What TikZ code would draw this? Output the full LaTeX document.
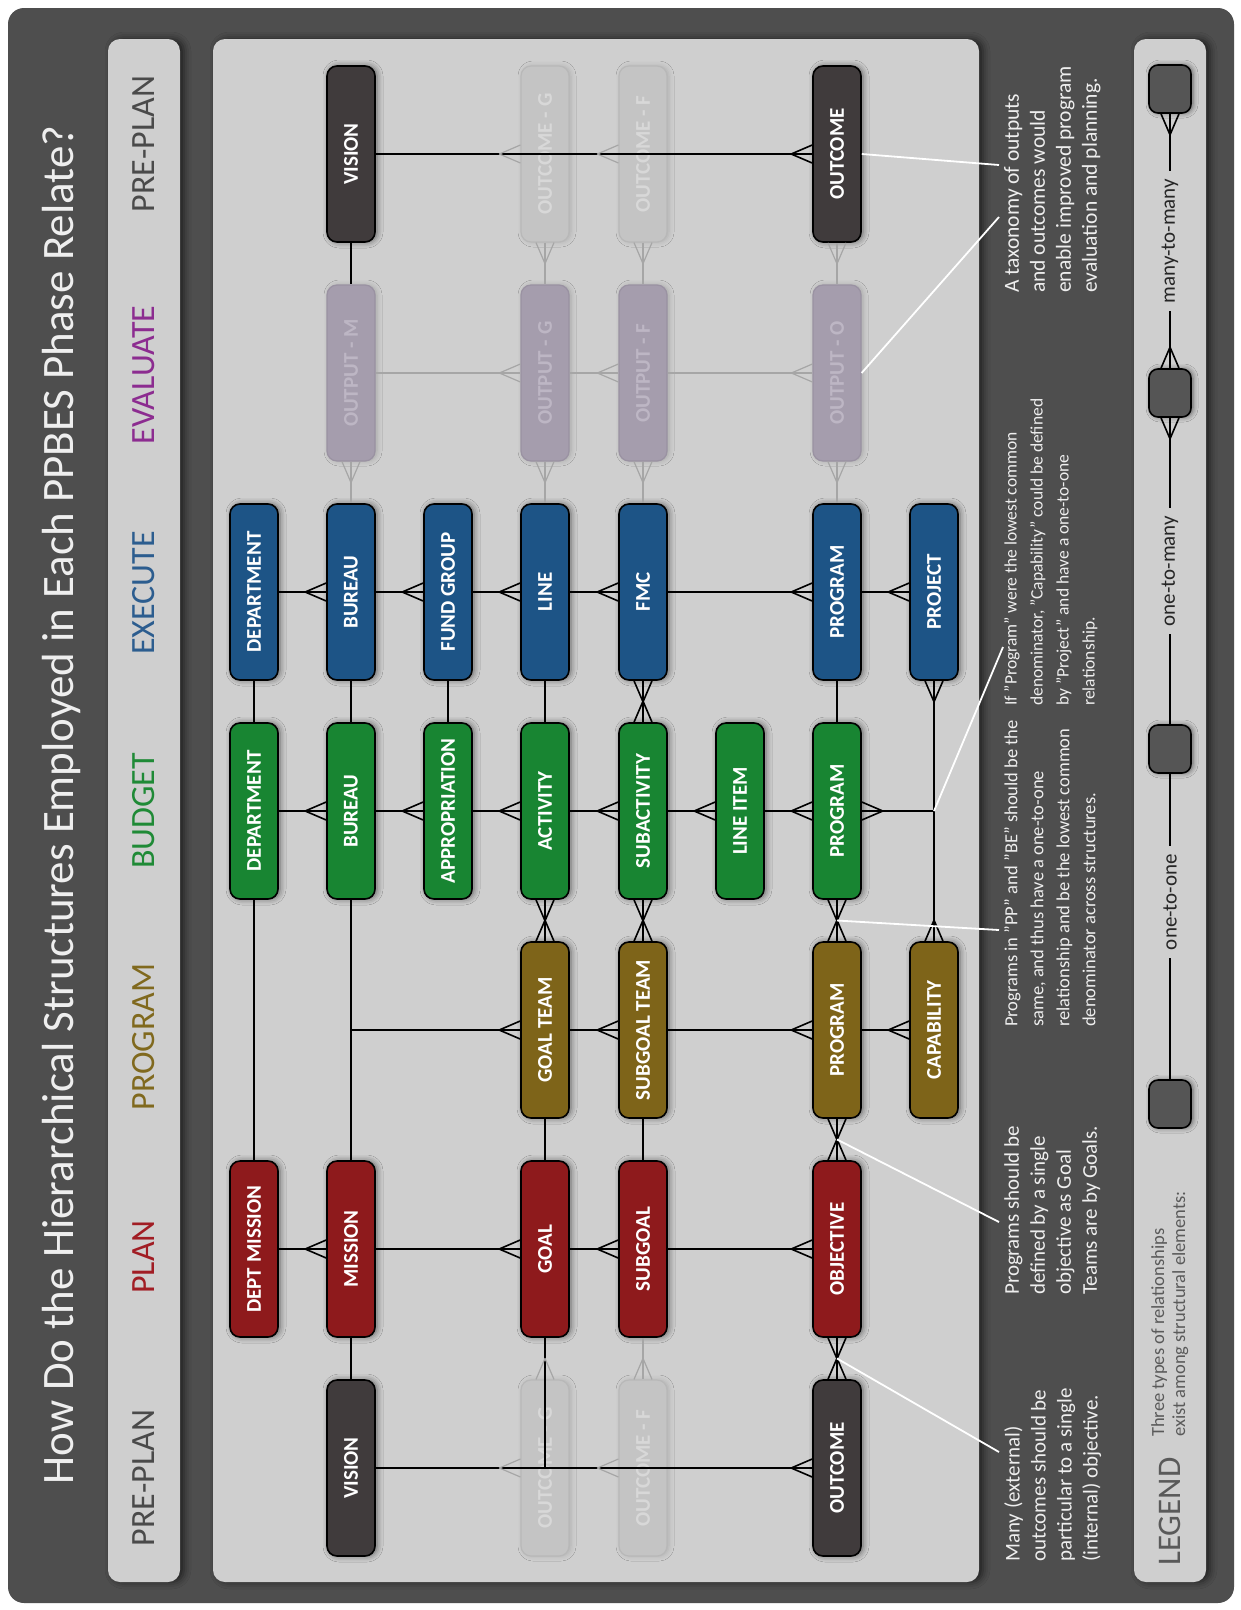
\documentclass[tikz,border=0pt]{standalone}
\usepackage{graphicx}
\usepackage{fontspec}
\setmainfont{Carlito}
\usetikzlibrary{calc,shadows.blur}

\definecolor{framegray}{HTML}{4E4E4E}
\definecolor{panelgray}{HTML}{CFCFCF}
\definecolor{preplanfill}{HTML}{403B3C}
\definecolor{planfill}{HTML}{8E1A1C}
\definecolor{programfill}{HTML}{7E6419}
\definecolor{budgetfill}{HTML}{188532}
\definecolor{executefill}{HTML}{1D5486}
\definecolor{outputfill}{HTML}{A59DAD}
\definecolor{outputline}{HTML}{9A92A2}
\definecolor{outputtext}{HTML}{BDB6C4}
\definecolor{fadefill}{HTML}{C4C4C4}
\definecolor{fadeline}{HTML}{A6A6A6}
\definecolor{fadetext}{HTML}{D8D8D8}
\definecolor{headgray}{HTML}{4A4A4A}
\definecolor{headplan}{HTML}{A11D24}
\definecolor{headprogram}{HTML}{80691E}
\definecolor{headbudget}{HTML}{1F8A36}
\definecolor{headexecute}{HTML}{2C5D8F}
\definecolor{headevaluate}{HTML}{8C2C90}
\definecolor{legendgray}{HTML}{5A5A5A}
\definecolor{legendfill}{HTML}{555555}
\definecolor{notewhite}{HTML}{EEEEEE}

\newcommand{\up}[1]{\rotatebox{90}{#1}}

\tikzset{
  panel/.style={fill=panelgray, rounded corners=12pt,
    blur shadow={shadow xshift=4pt, shadow yshift=0pt,
      shadow blur radius=7pt, shadow opacity=60}},
  box base/.style={draw=black, line width=1.6pt, rounded corners=10pt,
    minimum width=48pt, minimum height=176pt, inner sep=0pt, text=white,
    font={\fontsize{21}{21}\selectfont\bfseries}},
  phase box/.style={box base,
    blur shadow={shadow xshift=2pt, shadow yshift=0pt,
      shadow blur radius=6pt, shadow opacity=55}},
  preplan box/.style={phase box, fill=preplanfill},
  plan box/.style={phase box, fill=planfill},
  program box/.style={phase box, fill=programfill},
  budget box/.style={phase box, fill=budgetfill},
  execute box/.style={phase box, fill=executefill},
  faded box/.style={box base, line width=1.2pt, draw=fadeline!80!white,
    fill=fadefill, text=fadetext,
    blur shadow={shadow xshift=2pt, shadow yshift=0pt,
      shadow blur radius=5pt, shadow opacity=15}},
  output box/.style={box base, line width=1.2pt, draw=outputline,
    fill=outputfill, text=outputtext,
    blur shadow={shadow xshift=2pt, shadow yshift=0pt,
      shadow blur radius=5pt, shadow opacity=20}},
  link/.style={draw=black, line width=1.6pt, line join=round},
  faded link/.style={draw=fadeline, line width=1.2pt, line join=round},
  note line/.style={draw=white, line width=1.8pt},
  crow/.pic={\draw[link] (0,-9) -- (21,0) -- (0,9);},
  faded crow/.pic={\draw[faded link] (0,-9) -- (21,0) -- (0,9);},
  title/.style={rotate=90, text=notewhite,
    font={\fontsize{45}{45}\selectfont}},
  head/.style={rotate=90, font={\fontsize{34}{34}\selectfont}},
  note/.style={rotate=90, anchor=north west, align=left, inner sep=0pt,
    text=notewhite, font={\fontsize{#1}{26}\selectfont}},
  note/.default=20,
  legend box/.style={draw=black, line width=1.6pt, fill=legendfill,
    rounded corners=9pt, minimum width=42pt, minimum height=48pt,
    blur shadow={shadow xshift=2pt, shadow yshift=0pt,
      shadow blur radius=5pt, shadow opacity=55}},
  legend label/.style={fill=panelgray, inner xsep=2pt, inner ysep=8pt,
    text=black!85, font={\fontsize{21}{21}\selectfont}},
}

\begin{document}
\begin{tikzpicture}[x=1pt, y=-1pt]
  \useasboundingbox (0,0) rectangle (1241,1610);
  \fill[white] (0,0) rectangle (1241,1610);
  \fill[framegray, rounded corners=16pt] (8,8) rectangle (1234,1603);

  % panels
  \path[panel] (108,39) rectangle (180,1582);
  \path[panel] (213,39) rectangle (979,1582);
  \path[panel] (1134,39) rectangle (1206,1582);

  \node[title] (title) at (62,805)
    {How Do the Hierarchical Structures Employed in Each PPBES Phase Relate?};

  % phase headings
  \node[head, text=headgray] (hpreA) at (144,1478) {PRE-PLAN};
  \node[head, text=headplan] (hplan) at (144,1257) {PLAN};
  \node[head, text=headprogram] (hprogram) at (144,1037) {PROGRAM};
  \node[head, text=headbudget] (hbudget) at (144,811) {BUDGET};
  \node[head, text=headexecute] (hexecute) at (144,593) {EXECUTE};
  \node[head, text=headevaluate] (hevaluate) at (144,375) {EVALUATE};
  \node[head, text=headgray] (hpreB) at (144,144) {PRE-PLAN};

  % pre-plan (left)
  \node[preplan box] (visionA) at (351,1468) {\up{VISION}};
  \node[faded box] (outGA) at (545,1468) {\up{OUTCOME - G}};
  \node[faded box] (outFA) at (643,1468) {\up{OUTCOME - F}};
  \node[preplan box] (outcomeA) at (837,1468) {\up{OUTCOME}};

  % plan
  \node[plan box] (deptmission) at (254,1249) {\up{DEPT MISSION}};
  \node[plan box] (mission) at (351,1249) {\up{MISSION}};
  \node[plan box] (goal) at (545,1249) {\up{GOAL}};
  \node[plan box] (subgoal) at (643,1249) {\up{SUBGOAL}};
  \node[plan box] (objective) at (837,1249) {\up{OBJECTIVE}};

  % program
  \node[program box] (goalteam) at (545,1030) {\up{GOAL TEAM}};
  \node[program box] (subgoalteam) at (643,1030) {\up{SUBGOAL TEAM}};
  \node[program box] (program) at (837,1030) {\up{PROGRAM}};
  \node[program box] (capability) at (934,1030) {\up{CAPABILITY}};

  % budget
  \node[budget box] (bdept) at (254,811) {\up{DEPARTMENT}};
  \node[budget box] (bbureau) at (351,811) {\up{BUREAU}};
  \node[budget box] (approp) at (448,811) {\up{APPROPRIATION}};
  \node[budget box] (activity) at (545,811) {\up{ACTIVITY}};
  \node[budget box] (subactivity) at (643,811) {\up{SUBACTIVITY}};
  \node[budget box] (lineitem) at (740,811) {\up{LINE ITEM}};
  \node[budget box] (bprogram) at (837,811) {\up{PROGRAM}};

  % execute
  \node[execute box] (edept) at (254,592) {\up{DEPARTMENT}};
  \node[execute box] (ebureau) at (351,592) {\up{BUREAU}};
  \node[execute box] (fundgroup) at (448,592) {\up{FUND GROUP}};
  \node[execute box] (eline) at (545,592) {\up{LINE}};
  \node[execute box] (fmc) at (643,592) {\up{FMC}};
  \node[execute box] (eprogram) at (837,592) {\up{PROGRAM}};
  \node[execute box] (project) at (934,592) {\up{PROJECT}};

  % evaluate
  \node[output box] (outM) at (351,373) {\up{OUTPUT - M}};
  \node[output box] (outG) at (545,373) {\up{OUTPUT - G}};
  \node[output box] (outF) at (643,373) {\up{OUTPUT - F}};
  \node[output box] (outO) at (837,373) {\up{OUTPUT - O}};

  % pre-plan (right)
  \node[preplan box] (visionB) at (351,154) {\up{VISION}};
  \node[faded box] (outGB) at (545,154) {\up{OUTCOME - G}};
  \node[faded box] (outFB) at (643,154) {\up{OUTCOME - F}};
  \node[preplan box] (outcomeB) at (837,154) {\up{OUTCOME}};

  % links: pre-plan (left)
  \draw[link] (visionA.east) -- (outcomeA.west);
  \pic[rotate=180] at (outGA.west) {faded crow};
  \pic[rotate=180] at (outFA.west) {faded crow};
  \pic[rotate=180] at (outcomeA.west) {crow};
  \draw[link] (mission.south) -- (visionA.north);
  \draw[link] (goal.south) -- (goal.south |- visionA.east);
  \pic[rotate=90] at (outGA.north) {faded crow};
  \draw[faded link] (subgoal.south) -- (outFA.north);
  \pic[rotate=90] at (outFA.north) {faded crow};
  \draw[link] (objective.south) -- (outcomeA.north);
  \pic[rotate=-90] at (objective.south) {crow};
  \pic[rotate=90] at (outcomeA.north) {crow};

  % links: plan
  \draw[link] (deptmission.east) -- (mission.west);
  \pic[rotate=180] at (mission.west) {crow};
  \draw[link] (mission.east) -- (goal.west);
  \pic[rotate=180] at (goal.west) {crow};
  \draw[link] (goal.east) -- (subgoal.west);
  \pic[rotate=180] at (subgoal.west) {crow};
  \draw[link] (subgoal.east) -- (objective.west);
  \pic[rotate=180] at (objective.west) {crow};
  \draw[link] (deptmission.north) -- (bdept.south);
  \draw[link] (mission.north) -- (bbureau.south);
  \draw[link] (goalteam.south) -- (goal.north);
  \draw[link] (subgoalteam.south) -- (subgoal.north);
  \draw[link] (program.south) -- (objective.north);
  \pic[rotate=-90] at (program.south) {crow};
  \pic[rotate=90] at (objective.north) {crow};

  % links: program
  \draw[link] (mission.north |- goalteam.west) -- (goalteam.west);
  \pic[rotate=180] at (goalteam.west) {crow};
  \draw[link] (goalteam.east) -- (subgoalteam.west);
  \pic[rotate=180] at (subgoalteam.west) {crow};
  \draw[link] (subgoalteam.east) -- (program.west);
  \pic[rotate=180] at (program.west) {crow};
  \draw[link] (program.east) -- (capability.west);
  \pic[rotate=180] at (capability.west) {crow};
  \draw[link] (activity.south) -- (goalteam.north);
  \pic[rotate=-90] at (activity.south) {crow};
  \pic[rotate=90] at (goalteam.north) {crow};
  \draw[link] (subactivity.south) -- (subgoalteam.north);
  \pic[rotate=-90] at (subactivity.south) {crow};
  \pic[rotate=90] at (subgoalteam.north) {crow};
  \draw[link] (bprogram.south) -- (program.north);
  \pic[rotate=-90] at (bprogram.south) {crow};
  \pic[rotate=90] at (program.north) {crow};

  % links: budget
  \draw[link] (bdept.east) -- (bbureau.west);
  \pic[rotate=180] at (bbureau.west) {crow};
  \draw[link] (bbureau.east) -- (approp.west);
  \pic[rotate=180] at (approp.west) {crow};
  \draw[link] (approp.east) -- (activity.west);
  \pic[rotate=180] at (activity.west) {crow};
  \draw[link] (activity.east) -- (subactivity.west);
  \pic[rotate=180] at (subactivity.west) {crow};
  \draw[link] (subactivity.east) -- (lineitem.west);
  \pic[rotate=180] at (lineitem.west) {crow};
  \draw[link] (lineitem.east) -- (bprogram.west);
  \pic[rotate=180] at (bprogram.west) {crow};
  \coordinate (pjoin) at (project.south |- bprogram.east);
  \draw[link] (bprogram.east) -- (pjoin);
  \pic at (bprogram.east) {crow};
  \draw[link] (project.south) -- (capability.north);
  \pic[rotate=-90] at (project.south) {crow};
  \pic[rotate=90] at (capability.north) {crow};

  % links: execute
  \draw[link] (edept.east) -- (ebureau.west);
  \pic[rotate=180] at (ebureau.west) {crow};
  \draw[link] (ebureau.east) -- (fundgroup.west);
  \pic[rotate=180] at (fundgroup.west) {crow};
  \draw[link] (fundgroup.east) -- (eline.west);
  \pic[rotate=180] at (eline.west) {crow};
  \draw[link] (eline.east) -- (fmc.west);
  \pic[rotate=180] at (fmc.west) {crow};
  \draw[link] (fmc.east) -- (eprogram.west);
  \pic[rotate=180] at (eprogram.west) {crow};
  \draw[link] (eprogram.east) -- (project.west);
  \pic[rotate=180] at (project.west) {crow};
  \draw[link] (edept.south) -- (bdept.north);
  \draw[link] (ebureau.south) -- (bbureau.north);
  \draw[link] (fundgroup.south) -- (approp.north);
  \draw[link] (eline.south) -- (activity.north);
  \draw[link] (fmc.south) -- (subactivity.north);
  \pic[rotate=-90] at (fmc.south) {crow};
  \pic[rotate=90] at (subactivity.north) {crow};
  \draw[link] (eprogram.south) -- (bprogram.north);

  % links: evaluate
  \draw[faded link] (outM.east) -- (outG.west);
  \pic[rotate=180] at (outG.west) {faded crow};
  \draw[faded link] (outG.east) -- (outF.west);
  \pic[rotate=180] at (outF.west) {faded crow};
  \draw[faded link] (outF.east) -- (outO.west);
  \pic[rotate=180] at (outO.west) {faded crow};
  \draw[faded link] (outM.south) -- (ebureau.north);
  \pic[rotate=-90] at (outM.south) {faded crow};
  \draw[faded link] (outG.south) -- (eline.north);
  \pic[rotate=-90] at (outG.south) {faded crow};
  \draw[faded link] (outF.south) -- (fmc.north);
  \pic[rotate=-90] at (outF.south) {faded crow};
  \draw[faded link] (outO.south) -- (eprogram.north);
  \pic[rotate=-90] at (outO.south) {faded crow};
  \draw[link] (visionB.south) -- (outM.north);
  \draw[faded link] (outGB.south) -- (outG.north);
  \pic[rotate=-90] at (outGB.south) {faded crow};
  \draw[faded link] (outFB.south) -- (outF.north);
  \pic[rotate=-90] at (outFB.south) {faded crow};
  \draw[faded link] (outcomeB.south) -- (outO.north);
  \pic[rotate=-90] at (outcomeB.south) {faded crow};

  % links: pre-plan (right)
  \draw[link] (visionB.east) -- (outcomeB.west);
  \pic[rotate=180] at (outGB.west) {faded crow};
  \pic[rotate=180] at (outFB.west) {faded crow};
  \pic[rotate=180] at (outcomeB.west) {crow};

  % notes
  \node[note=21] (note1) at (1004,1562) {Many (external)\\outcomes should be\\particular to a single\\(internal) objective.};
  \node[note=21] (note2) at (1004,1295) {Programs should be\\defined by a single\\objective as Goal\\Teams are by Goals.};
  \node[note=18.5] (note3) at (1004,1027) {Programs in "PP" and "BE" should be the\\same, and thus have a one-to-one\\relationship and be the lowest common\\denominator across structures.};
  \node[note=17.5] (note4) at (1004,706) {If "Program" were the lowest common\\denominator, "Capability" could be defined\\by "Project" and have a one-to-one\\relationship.};
  \node[note=21.5] (note5) at (1004,293) {A taxonomy of outputs\\and outcomes would\\enable improved program\\evaluation and planning.};

  \coordinate (n1) at (999,1452);
  \coordinate (n2) at (999,1222);
  \coordinate (n3) at (999,930);
  \coordinate (n4) at (1003,647);
  \coordinate (n5a) at (999,165);
  \coordinate (n5b) at (999,217);
  \draw[note line] ($(objective.south)!0.5!(outcomeA.north)$) -- (n1);
  \draw[note line] ($(program.south)!0.5!(objective.north)$) -- (n2);
  \draw[note line] ($(bprogram.south)!0.5!(program.north)$) -- (n3);
  \draw[note line] (pjoin) -- (n4);
  \draw[note line] (outcomeB.east) -- (n5a);
  \draw[note line] (outO.east) -- (n5b);

  % legend
  \node[rotate=90, anchor=west, inner sep=0pt, text=legendgray,
    font={\fontsize{33}{33}\selectfont}] (legend) at (1170,1566) {LEGEND};
  \node[rotate=90, anchor=north west, align=left, inner sep=0pt,
    text=legendgray, font={\fontsize{18.5}{21}\selectfont}] (legendtext)
    at (1151,1437) {Three types of relationships\\exist among structural elements:};
  \node[legend box] (lgA) at (1170,1104) {};
  \node[legend box] (lgB) at (1170,749) {};
  \node[legend box] (lgC) at (1170,393) {};
  \node[legend box] (lgD) at (1170,89) {};
  \draw[link] (lgA.north) -- node[legend label, pos=0.58] {\up{one-to-one}} (lgB.south);
  \draw[link] (lgB.north) -- node[legend label] {\up{one-to-many}} (lgC.south);
  \draw[link] (lgC.north) -- node[legend label] {\up{many-to-many}} (lgD.south);
  \pic[rotate=-90] at (lgC.south) {crow};
  \pic[rotate=90] at (lgC.north) {crow};
  \pic[rotate=-90] at (lgD.south) {crow};
\end{tikzpicture}
\end{document}
